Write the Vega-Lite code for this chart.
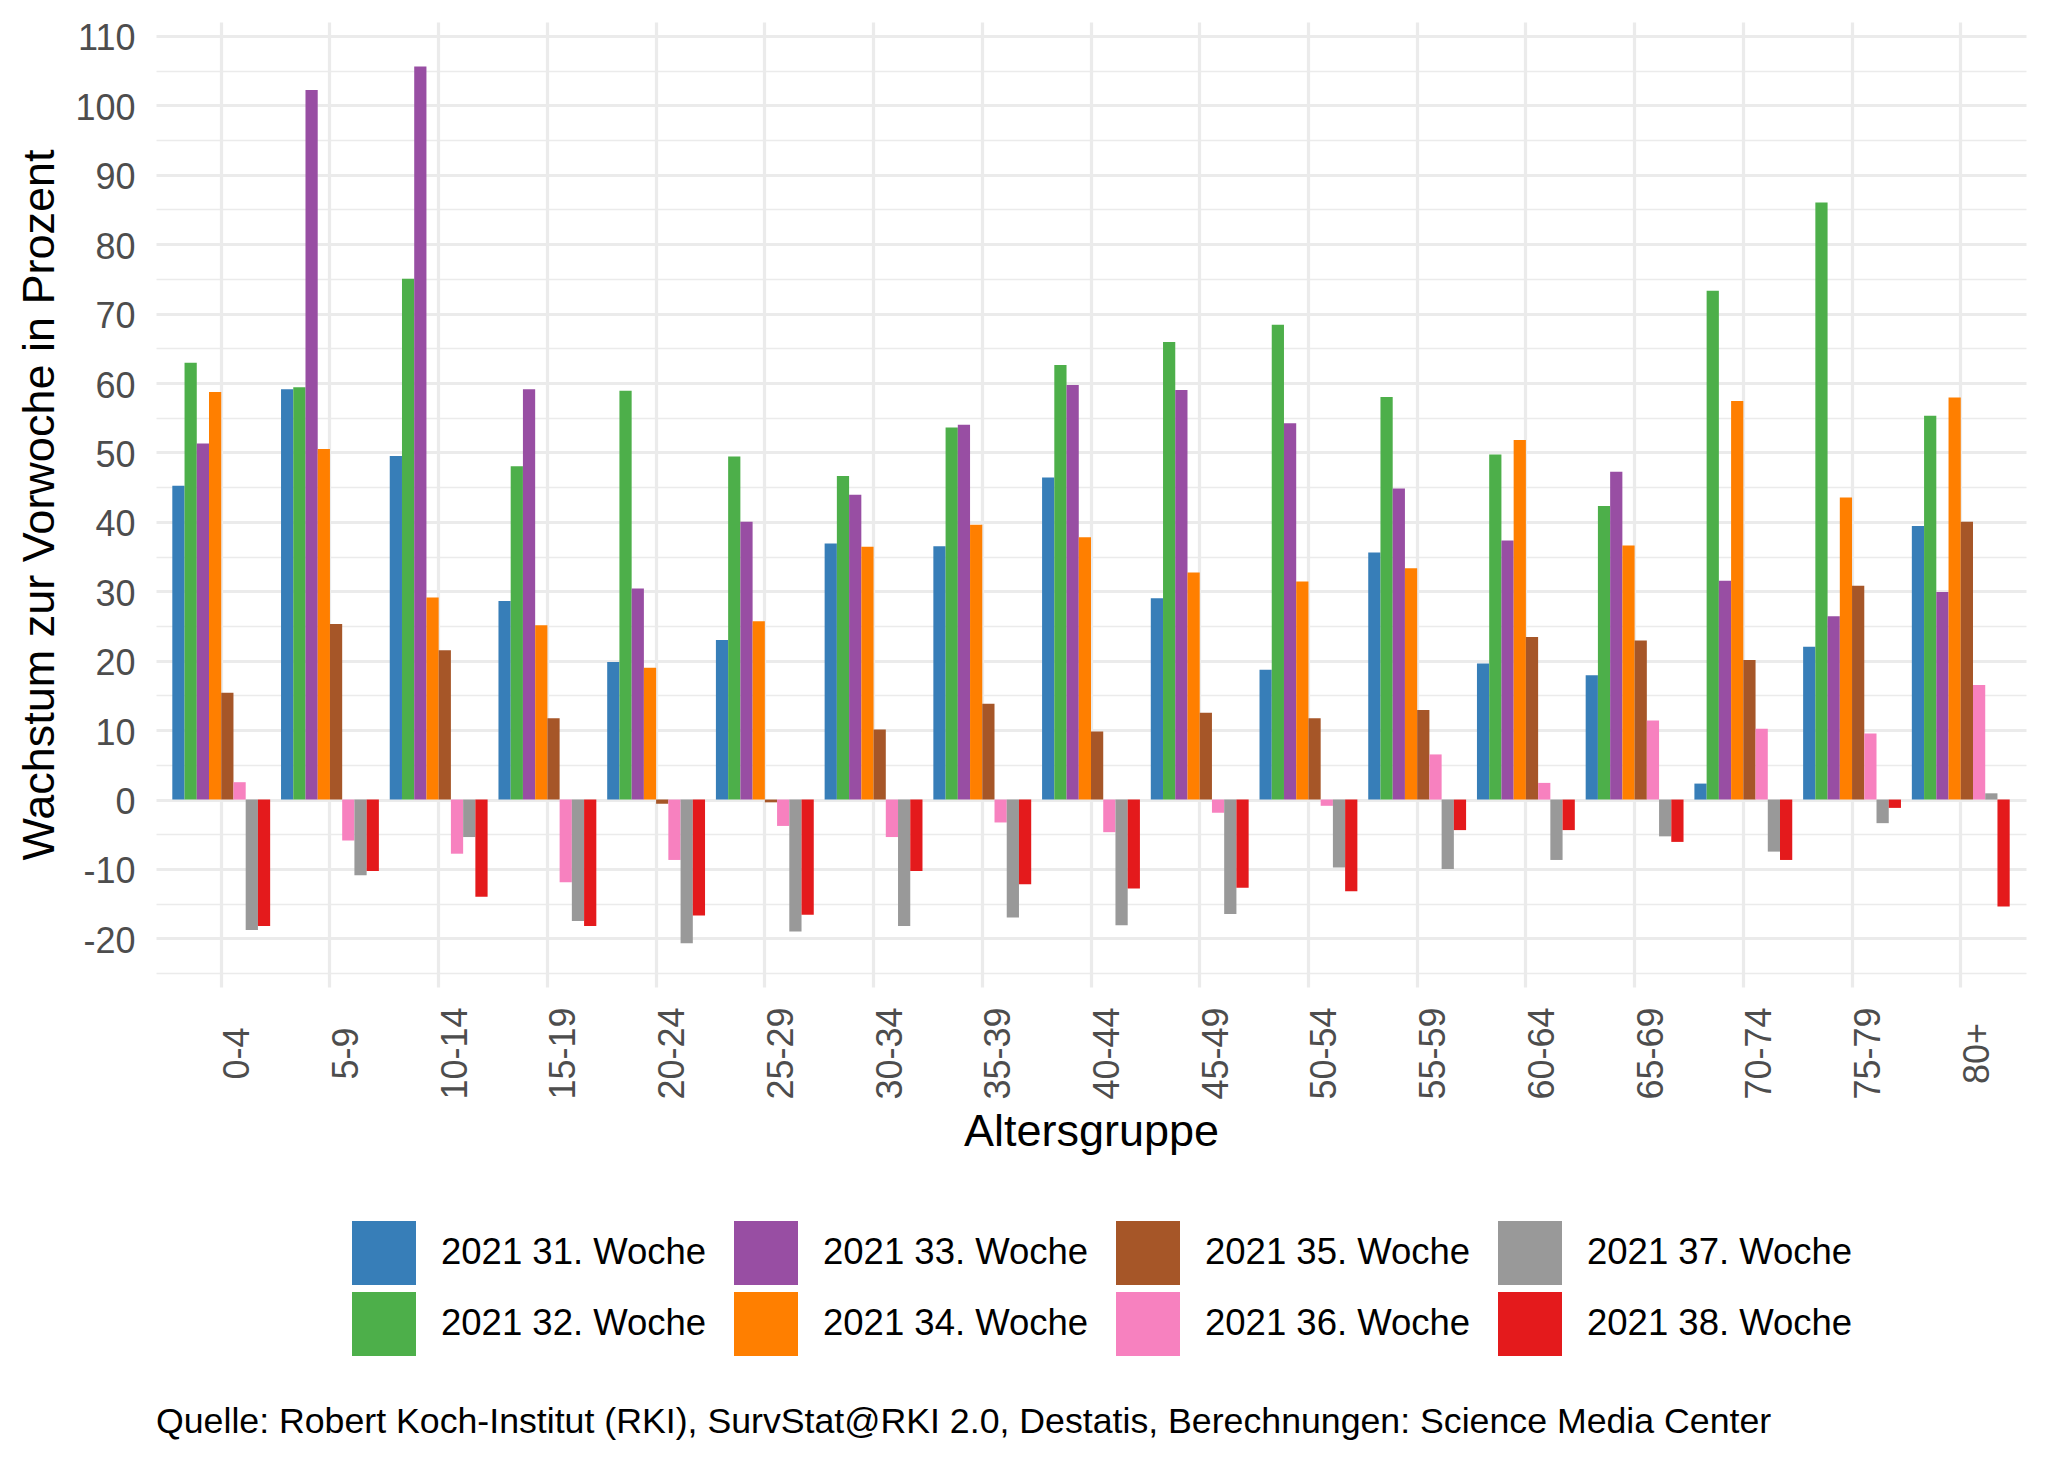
{
  "$schema": "https://vega.github.io/schema/vega-lite/v6.json",
  "autosize": {"type": "none"},
  "padding": {"left": 156, "top": 22, "right": 22, "bottom": 475},
  "width": 1870,
  "height": 965,
  "background": "white",
  "config": {
    "view": {"stroke": null},
    "font": "Liberation Sans"
  },
  "title": {
    "text": "Quelle: Robert Koch-Institut (RKI), SurvStat@RKI 2.0, Destatis, Berechnungen: Science Media Center",
    "orient": "bottom",
    "anchor": "start",
    "frame": "group",
    "fontSize": 35.7,
    "fontWeight": "normal",
    "color": "black",
    "font": "Liberation Sans",
    "offset": 49
  },
  "data": {
    "values": [
      {"age": "0-4", "week": "2021 31. Woche", "value": 45.2},
      {"age": "0-4", "week": "2021 32. Woche", "value": 62.9},
      {"age": "0-4", "week": "2021 33. Woche", "value": 51.3},
      {"age": "0-4", "week": "2021 34. Woche", "value": 58.7},
      {"age": "0-4", "week": "2021 35. Woche", "value": 15.4},
      {"age": "0-4", "week": "2021 36. Woche", "value": 2.5},
      {"age": "0-4", "week": "2021 37. Woche", "value": -18.8},
      {"age": "0-4", "week": "2021 38. Woche", "value": -18.2},
      {"age": "5-9", "week": "2021 31. Woche", "value": 59.1},
      {"age": "5-9", "week": "2021 32. Woche", "value": 59.4},
      {"age": "5-9", "week": "2021 33. Woche", "value": 102.2},
      {"age": "5-9", "week": "2021 34. Woche", "value": 50.5},
      {"age": "5-9", "week": "2021 35. Woche", "value": 25.3},
      {"age": "5-9", "week": "2021 36. Woche", "value": -5.9},
      {"age": "5-9", "week": "2021 37. Woche", "value": -10.9},
      {"age": "5-9", "week": "2021 38. Woche", "value": -10.3},
      {"age": "10-14", "week": "2021 31. Woche", "value": 49.5},
      {"age": "10-14", "week": "2021 32. Woche", "value": 75.0},
      {"age": "10-14", "week": "2021 33. Woche", "value": 105.6},
      {"age": "10-14", "week": "2021 34. Woche", "value": 29.1},
      {"age": "10-14", "week": "2021 35. Woche", "value": 21.5},
      {"age": "10-14", "week": "2021 36. Woche", "value": -7.8},
      {"age": "10-14", "week": "2021 37. Woche", "value": -5.4},
      {"age": "10-14", "week": "2021 38. Woche", "value": -14.0},
      {"age": "15-19", "week": "2021 31. Woche", "value": 28.6},
      {"age": "15-19", "week": "2021 32. Woche", "value": 48.0},
      {"age": "15-19", "week": "2021 33. Woche", "value": 59.1},
      {"age": "15-19", "week": "2021 34. Woche", "value": 25.1},
      {"age": "15-19", "week": "2021 35. Woche", "value": 11.7},
      {"age": "15-19", "week": "2021 36. Woche", "value": -11.9},
      {"age": "15-19", "week": "2021 37. Woche", "value": -17.5},
      {"age": "15-19", "week": "2021 38. Woche", "value": -18.2},
      {"age": "20-24", "week": "2021 31. Woche", "value": 19.8},
      {"age": "20-24", "week": "2021 32. Woche", "value": 58.9},
      {"age": "20-24", "week": "2021 33. Woche", "value": 30.4},
      {"age": "20-24", "week": "2021 34. Woche", "value": 19.0},
      {"age": "20-24", "week": "2021 35. Woche", "value": -0.6},
      {"age": "20-24", "week": "2021 36. Woche", "value": -8.7},
      {"age": "20-24", "week": "2021 37. Woche", "value": -20.7},
      {"age": "20-24", "week": "2021 38. Woche", "value": -16.7},
      {"age": "25-29", "week": "2021 31. Woche", "value": 23.0},
      {"age": "25-29", "week": "2021 32. Woche", "value": 49.4},
      {"age": "25-29", "week": "2021 33. Woche", "value": 40.0},
      {"age": "25-29", "week": "2021 34. Woche", "value": 25.7},
      {"age": "25-29", "week": "2021 35. Woche", "value": -0.4},
      {"age": "25-29", "week": "2021 36. Woche", "value": -3.8},
      {"age": "25-29", "week": "2021 37. Woche", "value": -19.0},
      {"age": "25-29", "week": "2021 38. Woche", "value": -16.6},
      {"age": "30-34", "week": "2021 31. Woche", "value": 36.9},
      {"age": "30-34", "week": "2021 32. Woche", "value": 46.6},
      {"age": "30-34", "week": "2021 33. Woche", "value": 43.9},
      {"age": "30-34", "week": "2021 34. Woche", "value": 36.4},
      {"age": "30-34", "week": "2021 35. Woche", "value": 10.1},
      {"age": "30-34", "week": "2021 36. Woche", "value": -5.4},
      {"age": "30-34", "week": "2021 37. Woche", "value": -18.2},
      {"age": "30-34", "week": "2021 38. Woche", "value": -10.3},
      {"age": "35-39", "week": "2021 31. Woche", "value": 36.5},
      {"age": "35-39", "week": "2021 32. Woche", "value": 53.6},
      {"age": "35-39", "week": "2021 33. Woche", "value": 54.0},
      {"age": "35-39", "week": "2021 34. Woche", "value": 39.6},
      {"age": "35-39", "week": "2021 35. Woche", "value": 13.8},
      {"age": "35-39", "week": "2021 36. Woche", "value": -3.3},
      {"age": "35-39", "week": "2021 37. Woche", "value": -17.0},
      {"age": "35-39", "week": "2021 38. Woche", "value": -12.2},
      {"age": "40-44", "week": "2021 31. Woche", "value": 46.4},
      {"age": "40-44", "week": "2021 32. Woche", "value": 62.6},
      {"age": "40-44", "week": "2021 33. Woche", "value": 59.7},
      {"age": "40-44", "week": "2021 34. Woche", "value": 37.8},
      {"age": "40-44", "week": "2021 35. Woche", "value": 9.8},
      {"age": "40-44", "week": "2021 36. Woche", "value": -4.7},
      {"age": "40-44", "week": "2021 37. Woche", "value": -18.1},
      {"age": "40-44", "week": "2021 38. Woche", "value": -12.8},
      {"age": "45-49", "week": "2021 31. Woche", "value": 29.0},
      {"age": "45-49", "week": "2021 32. Woche", "value": 65.9},
      {"age": "45-49", "week": "2021 33. Woche", "value": 59.0},
      {"age": "45-49", "week": "2021 34. Woche", "value": 32.7},
      {"age": "45-49", "week": "2021 35. Woche", "value": 12.5},
      {"age": "45-49", "week": "2021 36. Woche", "value": -1.9},
      {"age": "45-49", "week": "2021 37. Woche", "value": -16.5},
      {"age": "45-49", "week": "2021 38. Woche", "value": -12.7},
      {"age": "50-54", "week": "2021 31. Woche", "value": 18.7},
      {"age": "50-54", "week": "2021 32. Woche", "value": 68.4},
      {"age": "50-54", "week": "2021 33. Woche", "value": 54.2},
      {"age": "50-54", "week": "2021 34. Woche", "value": 31.4},
      {"age": "50-54", "week": "2021 35. Woche", "value": 11.7},
      {"age": "50-54", "week": "2021 36. Woche", "value": -0.9},
      {"age": "50-54", "week": "2021 37. Woche", "value": -9.8},
      {"age": "50-54", "week": "2021 38. Woche", "value": -13.2},
      {"age": "55-59", "week": "2021 31. Woche", "value": 35.6},
      {"age": "55-59", "week": "2021 32. Woche", "value": 58.0},
      {"age": "55-59", "week": "2021 33. Woche", "value": 44.8},
      {"age": "55-59", "week": "2021 34. Woche", "value": 33.3},
      {"age": "55-59", "week": "2021 35. Woche", "value": 12.9},
      {"age": "55-59", "week": "2021 36. Woche", "value": 6.5},
      {"age": "55-59", "week": "2021 37. Woche", "value": -10.0},
      {"age": "55-59", "week": "2021 38. Woche", "value": -4.4},
      {"age": "60-64", "week": "2021 31. Woche", "value": 19.6},
      {"age": "60-64", "week": "2021 32. Woche", "value": 49.7},
      {"age": "60-64", "week": "2021 33. Woche", "value": 37.3},
      {"age": "60-64", "week": "2021 34. Woche", "value": 51.8},
      {"age": "60-64", "week": "2021 35. Woche", "value": 23.4},
      {"age": "60-64", "week": "2021 36. Woche", "value": 2.4},
      {"age": "60-64", "week": "2021 37. Woche", "value": -8.7},
      {"age": "60-64", "week": "2021 38. Woche", "value": -4.4},
      {"age": "65-69", "week": "2021 31. Woche", "value": 17.9},
      {"age": "65-69", "week": "2021 32. Woche", "value": 42.3},
      {"age": "65-69", "week": "2021 33. Woche", "value": 47.2},
      {"age": "65-69", "week": "2021 34. Woche", "value": 36.6},
      {"age": "65-69", "week": "2021 35. Woche", "value": 22.9},
      {"age": "65-69", "week": "2021 36. Woche", "value": 11.4},
      {"age": "65-69", "week": "2021 37. Woche", "value": -5.3},
      {"age": "65-69", "week": "2021 38. Woche", "value": -6.1},
      {"age": "70-74", "week": "2021 31. Woche", "value": 2.3},
      {"age": "70-74", "week": "2021 32. Woche", "value": 73.3},
      {"age": "70-74", "week": "2021 33. Woche", "value": 31.5},
      {"age": "70-74", "week": "2021 34. Woche", "value": 57.4},
      {"age": "70-74", "week": "2021 35. Woche", "value": 20.1},
      {"age": "70-74", "week": "2021 36. Woche", "value": 10.2},
      {"age": "70-74", "week": "2021 37. Woche", "value": -7.5},
      {"age": "70-74", "week": "2021 38. Woche", "value": -8.7},
      {"age": "75-79", "week": "2021 31. Woche", "value": 22.0},
      {"age": "75-79", "week": "2021 32. Woche", "value": 86.0},
      {"age": "75-79", "week": "2021 33. Woche", "value": 26.4},
      {"age": "75-79", "week": "2021 34. Woche", "value": 43.5},
      {"age": "75-79", "week": "2021 35. Woche", "value": 30.8},
      {"age": "75-79", "week": "2021 36. Woche", "value": 9.5},
      {"age": "75-79", "week": "2021 37. Woche", "value": -3.4},
      {"age": "75-79", "week": "2021 38. Woche", "value": -1.2},
      {"age": "80+", "week": "2021 31. Woche", "value": 39.4},
      {"age": "80+", "week": "2021 32. Woche", "value": 55.3},
      {"age": "80+", "week": "2021 33. Woche", "value": 29.9},
      {"age": "80+", "week": "2021 34. Woche", "value": 57.9},
      {"age": "80+", "week": "2021 35. Woche", "value": 40.0},
      {"age": "80+", "week": "2021 36. Woche", "value": 16.5},
      {"age": "80+", "week": "2021 37. Woche", "value": 0.9},
      {"age": "80+", "week": "2021 38. Woche", "value": -15.4}
    ]
  },
  "mark": {"type": "bar", "strokeWidth": 0},
  "encoding": {
    "x": {
      "field": "age",
      "type": "nominal",
      "sort": null,
      "scale": {"paddingInner": 0.1, "paddingOuter": 0.15},
      "axis": {
        "title": "Altersgruppe",
        "titleFontSize": 45,
        "titleFontWeight": "normal",
        "titleColor": "black",
        "titlePadding": 10,
        "labelAngle": 270,
        "labelAlign": "center",
        "labelBaseline": "top",
        "labelPadding": 66,
        "labelFontSize": 36,
        "labelColor": "#4D4D4D",
        "labelOverlap": false,
        "ticks": false,
        "tickSize": 0,
        "domain": false,
        "grid": true,
        "bandPosition": 0.5,
        "gridColor": "#EBEBEB",
        "gridWidth": 3.2
      }
    },
    "xOffset": {
      "field": "week",
      "type": "nominal",
      "scale": {"paddingInner": 0, "paddingOuter": 0}
    },
    "y": {
      "field": "value",
      "type": "quantitative",
      "scale": {"domain": [-27.0, 112.0], "nice": false, "zero": false},
      "axis": {
        "title": "Wachstum zur Vorwoche in Prozent",
        "titleFontSize": 45,
        "titleFontWeight": "normal",
        "titleColor": "black",
        "titlePadding": 12,
        "values": [-25, -20, -15, -10, -5, 0, 5, 10, 15, 20, 25, 30, 35, 40, 45, 50, 55, 60, 65, 70, 75, 80, 85, 90, 95, 100, 105, 110],
        "labelExpr": "datum.value % 10 === 0 ? '' + datum.value : ''",
        "labelFontSize": 36,
        "labelColor": "#4D4D4D",
        "labelPadding": 21,
        "labelOffset": 3,
        "ticks": false,
        "tickSize": 0,
        "domain": false,
        "grid": true,
        "gridColor": "#EBEBEB",
        "gridWidth": {"condition": {"test": "datum.value % 10 !== 0", "value": 1.6}, "value": 3.2}
      }
    },
    "color": {
      "field": "week",
      "type": "nominal",
      "scale": {
        "domain": ["2021 31. Woche", "2021 33. Woche", "2021 35. Woche", "2021 37. Woche", "2021 32. Woche", "2021 34. Woche", "2021 36. Woche", "2021 38. Woche"],
        "range": ["#377EB8", "#984EA3", "#A65628", "#999999", "#4DAF4A", "#FF7F00", "#F781BF", "#E41A1C"]
      },
      "legend": {
        "title": null,
        "orient": "none",
        "legendX": 196,
        "legendY": 1199,
        "direction": "horizontal",
        "columns": 4,
        "symbolType": "square",
        "symbolSize": 4096,
        "symbolStrokeWidth": 0,
        "symbolOpacity": 1,
        "labelFontSize": 36.5,
        "labelColor": "black",
        "labelOffset": 25,
        "labelLimit": 500,
        "columnPadding": 27,
        "rowPadding": 7
      }
    }
  }
}
